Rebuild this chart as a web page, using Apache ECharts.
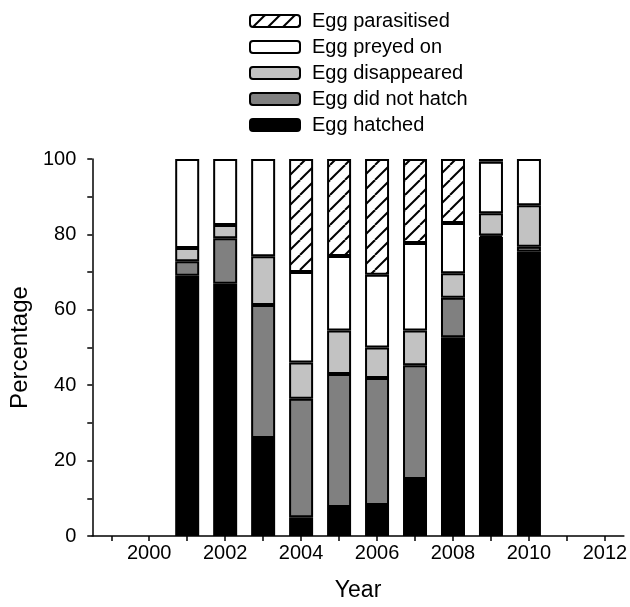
<!DOCTYPE html>
<html>
<head>
<meta charset="utf-8">
<script src="https://cdn.jsdelivr.net/npm/echarts@6/dist/echarts.min.js"></script>
<style>html,body{margin:0;padding:0;background:#fff}#c{width:630px;height:607px}</style>
</head>
<body>
<div id="c"></div>
<script>
const axisYears = ['1999','2000','2001','2002','2003','2004','2005','2006','2007','2008','2009','2010','2011','2012'];
const dataYears = ['2001','2002','2003','2004','2005','2006','2007','2008','2009','2010'];
const hatched     = [69.0, 66.9, 26.0, 5.0, 7.7, 8.2, 15.1, 52.7, 79.3, 75.4];
const didNotHatch = [3.9, 12.1, 35.3, 31.4, 35.3, 33.7, 30.2, 10.5, 0.4, 1.3];
const disappeared = [3.5, 3.5, 12.9, 9.6, 11.5, 8.1, 9.2, 6.5, 5.9, 11.0];
const preyedOn    = [23.6, 17.5, 25.8, 24.0, 19.8, 19.3, 23.2, 13.3, 13.7, 12.3];
const parasitised = [null, null, null, 30.0, 25.7, 30.7, 22.3, 17.0, 0.7, null];
const yTicks = [0, 20, 40, 60, 80, 100];

function hatch() {
  const s = 15;
  const cv = document.createElement('canvas');
  cv.width = s; cv.height = s;
  const ctx = cv.getContext('2d');
  ctx.fillStyle = '#fff';
  ctx.fillRect(0, 0, s, s);
  ctx.strokeStyle = '#000';
  ctx.lineWidth = 2;
  for (const k of [-s, 0, s]) {
    ctx.beginPath();
    ctx.moveTo(k, s);
    ctx.lineTo(k + s, 0);
    ctx.stroke();
  }
  return {image: cv, repeat: 'repeat'};
}

const font = 'Liberation Sans, Arial, Helvetica, sans-serif';
function mk(name, vals, color) {
  return {
    name: name, type: 'bar', stack: 'all', barWidth: 24,
    data: dataYears.map((y, i) => [y, vals[i]]),
    itemStyle: {color: color, borderColor: '#000', borderWidth: 2},
    emphasis: {disabled: true}
  };
}
const chart = echarts.init(document.getElementById('c'));
chart.setOption({
  animation: false,
  textStyle: {fontFamily: font, color: '#000'},
  grid: {left: 92, width: 535, top: 159, height: 383, containLabel: false},
  legend: {
    data: ['Egg parasitised', 'Egg preyed on', 'Egg disappeared', 'Egg did not hatch', 'Egg hatched'],
    orient: 'vertical', left: 249, top: 11, padding: 0,
    itemWidth: 50, itemHeight: 12, itemGap: 6,
    textStyle: {fontSize: 20, color: '#000', fontFamily: font, padding: [0, 0, 0, 7]},
    itemStyle: {borderColor: '#000', borderWidth: 2},
    selectedMode: false
  },
  xAxis: {
    type: 'category', data: axisYears, boundaryGap: true,
    name: 'Year', nameLocation: 'middle', nameGap: 43,
    nameTextStyle: {fontSize: 23, color: '#000'},
    axisLine: {lineStyle: {color: '#000', width: 1.5}},
    axisTick: {show: true, alignWithLabel: true, interval: 0, length: 5, lineStyle: {color: '#000', width: 1.5}},
    axisLabel: {interval: 0, fontSize: 20, color: '#000', margin: 7,
      formatter: v => (Number(v) % 2 === 0 ? v : '')},
    splitLine: {show: false}
  },
  yAxis: {
    type: 'value', min: 0, max: 100, interval: 10,
    name: 'Percentage', nameLocation: 'middle', nameGap: 55, nameRotate: 90,
    nameTextStyle: {fontSize: 24, color: '#000'},
    axisLine: {show: true, lineStyle: {color: '#000', width: 1.5}},
    axisTick: {show: true, length: 5, lineStyle: {color: '#000', width: 1.5}},
    axisLabel: {fontSize: 20, color: '#000', margin: 16,
      formatter: v => (yTicks.indexOf(v) >= 0 ? String(v) : '')},
    splitLine: {show: false}
  },
  series: [
    mk('Egg hatched', hatched, '#000000'),
    mk('Egg did not hatch', didNotHatch, '#808080'),
    mk('Egg disappeared', disappeared, '#c2c2c2'),
    mk('Egg preyed on', preyedOn, '#ffffff'),
    mk('Egg parasitised', parasitised, hatch())
  ]
});
</script>
</body>
</html>
